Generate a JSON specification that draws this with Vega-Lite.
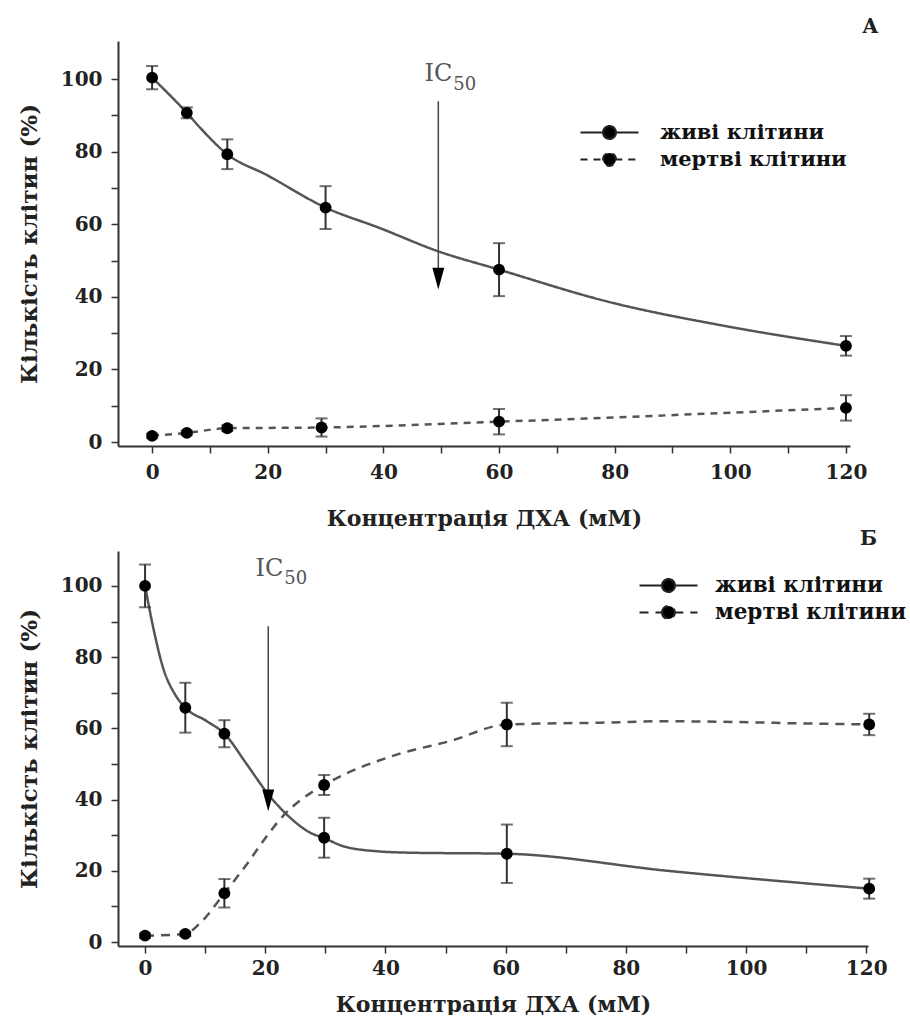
{
  "$schema": "https://vega.github.io/schema/vega-lite/v6.json",
  "background": "white",
  "padding": {"left": 18, "top": 17, "right": 0, "bottom": 0},
  "bounds": "flush",
  "spacing": 105,
  "datasets": {
    "obs": [
      {"panel": "A", "series": "живі клітини", "conc": 0, "value": 100.4, "err": 3.2},
      {"panel": "A", "series": "живі клітини", "conc": 6, "value": 90.7, "err": 1.5},
      {"panel": "A", "series": "живі клітини", "conc": 13, "value": 79.3, "err": 4.1},
      {"panel": "A", "series": "живі клітини", "conc": 30, "value": 64.6, "err": 5.9},
      {"panel": "A", "series": "живі клітини", "conc": 60, "value": 47.5, "err": 7.3},
      {"panel": "A", "series": "живі клітини", "conc": 120, "value": 26.5, "err": 2.7},
      {"panel": "A", "series": "мертві клітини", "conc": 0, "value": 1.7, "err": 0.6},
      {"panel": "A", "series": "мертві клітини", "conc": 6, "value": 2.5, "err": 0.6},
      {"panel": "A", "series": "мертві клітини", "conc": 13, "value": 3.8, "err": 0.8},
      {"panel": "A", "series": "мертві клітини", "conc": 29.3, "value": 4.0, "err": 2.5},
      {"panel": "A", "series": "мертві клітини", "conc": 60, "value": 5.6, "err": 3.5},
      {"panel": "A", "series": "мертві клітини", "conc": 120, "value": 9.4, "err": 3.5},
      {"panel": "Б", "series": "живі клітини", "conc": 0, "value": 100, "err": 6},
      {"panel": "Б", "series": "живі клітини", "conc": 6.7, "value": 65.8, "err": 7},
      {"panel": "Б", "series": "живі клітини", "conc": 13.2, "value": 58.5, "err": 3.8},
      {"panel": "Б", "series": "живі клітини", "conc": 29.8, "value": 29.3, "err": 5.6},
      {"panel": "Б", "series": "живі клітини", "conc": 60.2, "value": 24.8, "err": 8.2},
      {"panel": "Б", "series": "живі клітини", "conc": 120.5, "value": 15, "err": 2.8},
      {"panel": "Б", "series": "мертві клітини", "conc": 0, "value": 1.8, "err": 0.6},
      {"panel": "Б", "series": "мертві клітини", "conc": 6.7, "value": 2.3, "err": 0.6},
      {"panel": "Б", "series": "мертві клітини", "conc": 13.2, "value": 13.7, "err": 4},
      {"panel": "Б", "series": "мертві клітини", "conc": 29.8, "value": 44.1, "err": 2.8},
      {"panel": "Б", "series": "мертві клітини", "conc": 60.2, "value": 61.1, "err": 6.1},
      {"panel": "Б", "series": "мертві клітини", "conc": 120.5, "value": 61.1, "err": 3}
    ],
    "fit": [
      {"panel": "A", "series": "живі клітини", "conc": 0, "value": 100.4},
      {"panel": "A", "series": "живі клітини", "conc": 6, "value": 90.7},
      {"panel": "A", "series": "живі клітини", "conc": 8.3, "value": 86.6},
      {"panel": "A", "series": "живі клітини", "conc": 13, "value": 79.3},
      {"panel": "A", "series": "живі клітини", "conc": 19.8, "value": 73.6},
      {"panel": "A", "series": "живі клітини", "conc": 30, "value": 64.6},
      {"panel": "A", "series": "живі клітини", "conc": 39.3, "value": 59},
      {"panel": "A", "series": "живі клітини", "conc": 49.4, "value": 52.6},
      {"panel": "A", "series": "живі клітини", "conc": 60, "value": 47.5},
      {"panel": "A", "series": "живі клітини", "conc": 79, "value": 38.6},
      {"panel": "A", "series": "живі клітини", "conc": 99, "value": 32},
      {"panel": "A", "series": "живі клітини", "conc": 120, "value": 26.5},
      {"panel": "A", "series": "мертві клітини", "conc": 0, "value": 1.7},
      {"panel": "A", "series": "мертві клітини", "conc": 6, "value": 2.5},
      {"panel": "A", "series": "мертві клітини", "conc": 13, "value": 3.8},
      {"panel": "A", "series": "мертві клітини", "conc": 29.3, "value": 4.0},
      {"panel": "A", "series": "мертві клітини", "conc": 60, "value": 5.6},
      {"panel": "A", "series": "мертві клітини", "conc": 120, "value": 9.4},
      {"panel": "Б", "series": "живі клітини", "conc": 0, "value": 100},
      {"panel": "Б", "series": "живі клітини", "conc": 1.4, "value": 88},
      {"panel": "Б", "series": "живі клітини", "conc": 3, "value": 77},
      {"panel": "Б", "series": "живі клітини", "conc": 5, "value": 69.5},
      {"panel": "Б", "series": "живі клітини", "conc": 6.7, "value": 65.8},
      {"panel": "Б", "series": "живі клітини", "conc": 10.3, "value": 62},
      {"panel": "Б", "series": "живі клітини", "conc": 13.2, "value": 58.5},
      {"panel": "Б", "series": "живі клітини", "conc": 16.9, "value": 50},
      {"panel": "Б", "series": "живі клітини", "conc": 20.5, "value": 41.5},
      {"panel": "Б", "series": "живі клітини", "conc": 24.1, "value": 35},
      {"panel": "Б", "series": "живі клітини", "conc": 27.5, "value": 30.7},
      {"panel": "Б", "series": "живі клітини", "conc": 29.8, "value": 29.2},
      {"panel": "Б", "series": "живі клітини", "conc": 33, "value": 26.9},
      {"panel": "Б", "series": "живі клітини", "conc": 38.6, "value": 25.5},
      {"panel": "Б", "series": "живі клітини", "conc": 44, "value": 25.1},
      {"panel": "Б", "series": "живі клітини", "conc": 60.2, "value": 24.8},
      {"panel": "Б", "series": "живі клітини", "conc": 87, "value": 20},
      {"panel": "Б", "series": "живі клітини", "conc": 120.5, "value": 15},
      {"panel": "Б", "series": "мертві клітини", "conc": 0, "value": 1.8},
      {"panel": "Б", "series": "мертві клітини", "conc": 6.7, "value": 2.3},
      {"panel": "Б", "series": "мертві клітини", "conc": 9.2, "value": 5.4},
      {"panel": "Б", "series": "мертві клітини", "conc": 13.2, "value": 13.7},
      {"panel": "Б", "series": "мертві клітини", "conc": 17, "value": 22},
      {"panel": "Б", "series": "мертві клітини", "conc": 20.5, "value": 30.3},
      {"panel": "Б", "series": "мертві клітини", "conc": 23.3, "value": 36},
      {"panel": "Б", "series": "мертві клітини", "conc": 26, "value": 40},
      {"panel": "Б", "series": "мертві клітини", "conc": 29.8, "value": 44.1},
      {"panel": "Б", "series": "мертві клітини", "conc": 42.4, "value": 52.9},
      {"panel": "Б", "series": "мертві клітини", "conc": 50.7, "value": 56.4},
      {"panel": "Б", "series": "мертві клітини", "conc": 60.2, "value": 61.1},
      {"panel": "Б", "series": "мертві клітини", "conc": 75.7, "value": 61.6},
      {"panel": "Б", "series": "мертві клітини", "conc": 86.8, "value": 62},
      {"panel": "Б", "series": "мертві клітини", "conc": 98, "value": 61.8},
      {"panel": "Б", "series": "мертві клітини", "conc": 109, "value": 61.4},
      {"panel": "Б", "series": "мертві клітини", "conc": 120.5, "value": 61.1}
    ],
    "ic50": [
      {"panel": "A", "conc": 49.5, "value": 93.9, "head": 45.0, "label_y": 99.4},
      {"panel": "Б", "conc": 20.5, "value": 88.7, "head": 39.8, "label_y": 102.7}
    ]
  },
  "config": {
    "view": {"stroke": null},
    "font": "DejaVu Serif",
    "axis": {
      "domainColor": "#333", "domainWidth": 2, "tickColor": "#333", "tickWidth": 1.5, "tickSize": 7,
      "labelFont": "DejaVu Serif", "labelFontSize": 20, "labelFontWeight": "bold", "labelColor": "#222",
      "titleFont": "DejaVu Serif", "titleFontSize": 22, "titleFontWeight": "bold", "titleColor": "#222",
      "grid": false, "labelPadding": 9
    },
    "axisY": {"titleFontSize": 23}
  },
  "resolve": {
    "scale": {"x": "independent", "y": "independent", "strokeDash": "independent"},
    "legend": {"strokeDash": "independent"}
  },
  "vconcat": [
    {
      "width": 732,
      "height": 405,
      "title": {"text": "A", "anchor": "end", "frame": "group", "font": "DejaVu Serif", "fontSize": 20, "fontWeight": "bold", "color": "#222", "dx": 28, "offset": 4},
      "encoding": {
        "x": {"field": "conc", "type": "quantitative", "scale": {"domain": [-5.9, 120.7], "nice": false, "zero": false},
          "axis": {"values": [0, 10, 20, 30, 40, 50, 60, 70, 80, 90, 100, 110, 120], "labelExpr": "datum.value % 20 === 0 ? datum.label : ''", "title": "Концентрація ДХА (мМ)", "titlePadding": 26}},
        "y": {"field": "value", "type": "quantitative", "scale": {"domain": [-1.1, 110.5], "nice": false, "zero": false},
          "axis": {"values": [0, 10, 20, 30, 40, 50, 60, 70, 80, 90, 100], "labelExpr": "datum.value % 20 === 0 ? datum.label : ''", "title": "Кількість клітин (%)", "titlePadding": 19}}
      },
      "layer": [
        {
          "data": {"name": "fit"},
          "transform": [{"filter": "datum.panel === 'A'"}],
          "mark": {"type": "line", "interpolate": "monotone", "color": "#555", "strokeWidth": 2.5},
          "encoding": {
            "strokeDash": {"field": "series", "type": "nominal",
              "scale": {"domain": ["живі клітини", "мертві клітини"], "range": [[1, 0], [7, 6]]},
              "legend": {"orient": "none", "legendX": 461, "legendY": 78, "title": null, "padding": 0,
                "symbolType": "M-1,0H-0.2M0.2,0H1M-0.22,0A0.22,0.22,0,1,1,0.22,0A0.22,0.22,0,1,1,-0.22,0Z",
                "symbolSize": 3364, "symbolStrokeWidth": 2.2, "symbolStrokeColor": "#222", "symbolFillColor": "#000", "symbolOpacity": 1,
                "clipHeight": 27, "rowPadding": 0, "labelOffset": 20, "labelLimit": 400,
                "labelFont": "DejaVu Serif", "labelFontSize": 21, "labelFontWeight": "bold", "labelColor": "#111",
                "encode": {"symbols": {"update": {"fill": {"value": "#000"}, "stroke": {"value": "#222"}, "opacity": {"value": 1}, "fillOpacity": {"value": 1}}}}}
            }
          }
        },
        {
          "data": {"name": "obs"},
          "transform": [{"filter": "datum.panel === 'A'"}],
          "mark": {"type": "errorbar", "ticks": {"size": 12, "thickness": 2, "color": "#333"}, "rule": {"strokeWidth": 2, "color": "#333"}},
          "encoding": {
            "y": {"field": "value", "type": "quantitative", "title": "Кількість клітин (%)"},
            "yError": {"field": "err"}
          }
        },
        {
          "data": {"name": "obs"},
          "transform": [{"filter": "datum.panel === 'A'"}],
          "mark": {"type": "circle", "size": 140, "color": "black", "opacity": 1}
        },
        {
          "data": {"name": "ic50"},
          "transform": [{"filter": "datum.panel === 'A'"}],
          "mark": {"type": "rule", "color": "#444", "strokeWidth": 1.5},
          "encoding": {"y2": {"field": "head"}}
        },
        {
          "data": {"name": "ic50"},
          "transform": [{"filter": "datum.panel === 'A'"}],
          "mark": {"type": "point", "shape": "M-0.55,-1L0.55,-1L0,1Z", "size": 470, "filled": true, "color": "black", "opacity": 1},
          "encoding": {"y": {"field": "head", "type": "quantitative", "title": "Кількість клітин (%)"}}
        },
        {
          "data": {"name": "ic50"},
          "transform": [{"filter": "datum.panel === 'A'"}],
          "mark": {"type": "text", "text": "IC", "align": "right", "baseline": "alphabetic", "dx": 14, "font": "DejaVu Serif", "fontSize": 24, "color": "#555"},
          "encoding": {"y": {"field": "label_y", "type": "quantitative", "title": "Кількість клітин (%)"}}
        },
        {
          "data": {"name": "ic50"},
          "transform": [{"filter": "datum.panel === 'A'"}],
          "mark": {"type": "text", "text": "50", "align": "left", "baseline": "alphabetic", "dx": 15, "dy": 9, "font": "DejaVu Serif", "fontSize": 18, "color": "#555"},
          "encoding": {"y": {"field": "label_y", "type": "quantitative", "title": "Кількість клітин (%)"}}
        }
      ]
    },
    {
      "width": 750,
      "height": 395,
      "title": {"text": "Б", "anchor": "end", "frame": "group", "font": "DejaVu Serif", "fontSize": 20, "fontWeight": "bold", "color": "#222", "dx": 9, "offset": 2},
      "encoding": {
        "x": {"field": "conc", "type": "quantitative", "scale": {"domain": [-4.5, 120.3], "nice": false, "zero": false},
          "axis": {"values": [0, 10, 20, 30, 40, 50, 60, 70, 80, 90, 100, 110, 120], "labelExpr": "datum.value % 20 === 0 ? datum.label : ''", "title": "Концентрація ДХА (мМ)", "titlePadding": 16, "labelPadding": 5}},
        "y": {"field": "value", "type": "quantitative", "scale": {"domain": [-1.1, 109.8], "nice": false, "zero": false},
          "axis": {"values": [0, 10, 20, 30, 40, 50, 60, 70, 80, 90, 100], "labelExpr": "datum.value % 20 === 0 ? datum.label : ''", "title": "Кількість клітин (%)", "titlePadding": 19}}
      },
      "layer": [
        {
          "data": {"name": "fit"},
          "transform": [{"filter": "datum.panel === 'Б'"}],
          "mark": {"type": "line", "interpolate": "monotone", "color": "#555", "strokeWidth": 2.5},
          "encoding": {
            "strokeDash": {"field": "series", "type": "nominal",
              "scale": {"domain": ["живі клітини", "мертві клітини"], "range": [[1, 0], [9, 7]]},
              "legend": {"orient": "none", "legendX": 520, "legendY": 21, "title": null, "padding": 0,
                "symbolType": "M-1,0H-0.2M0.2,0H1M-0.22,0A0.22,0.22,0,1,1,0.22,0A0.22,0.22,0,1,1,-0.22,0Z",
                "symbolSize": 3364, "symbolStrokeWidth": 2.2, "symbolStrokeColor": "#222", "symbolFillColor": "#000", "symbolOpacity": 1,
                "clipHeight": 27, "rowPadding": 0, "labelOffset": 16, "labelLimit": 400,
                "labelFont": "DejaVu Serif", "labelFontSize": 21.5, "labelFontWeight": "bold", "labelColor": "#111",
                "encode": {"symbols": {"update": {"fill": {"value": "#000"}, "stroke": {"value": "#222"}, "opacity": {"value": 1}, "fillOpacity": {"value": 1}}}}}
            }
          }
        },
        {
          "data": {"name": "obs"},
          "transform": [{"filter": "datum.panel === 'Б'"}],
          "mark": {"type": "errorbar", "ticks": {"size": 12, "thickness": 2, "color": "#333"}, "rule": {"strokeWidth": 2, "color": "#333"}},
          "encoding": {
            "y": {"field": "value", "type": "quantitative", "title": "Кількість клітин (%)"},
            "yError": {"field": "err"}
          }
        },
        {
          "data": {"name": "obs"},
          "transform": [{"filter": "datum.panel === 'Б'"}],
          "mark": {"type": "circle", "size": 140, "color": "black", "opacity": 1}
        },
        {
          "data": {"name": "ic50"},
          "transform": [{"filter": "datum.panel === 'Б'"}],
          "mark": {"type": "rule", "color": "#444", "strokeWidth": 1.5},
          "encoding": {"y2": {"field": "head"}}
        },
        {
          "data": {"name": "ic50"},
          "transform": [{"filter": "datum.panel === 'Б'"}],
          "mark": {"type": "point", "shape": "M-0.55,-1L0.55,-1L0,1Z", "size": 470, "filled": true, "color": "black", "opacity": 1},
          "encoding": {"y": {"field": "head", "type": "quantitative", "title": "Кількість клітин (%)"}}
        },
        {
          "data": {"name": "ic50"},
          "transform": [{"filter": "datum.panel === 'Б'"}],
          "mark": {"type": "text", "text": "IC", "align": "right", "baseline": "alphabetic", "dx": 15, "font": "DejaVu Serif", "fontSize": 24, "color": "#555"},
          "encoding": {"y": {"field": "label_y", "type": "quantitative", "title": "Кількість клітин (%)"}}
        },
        {
          "data": {"name": "ic50"},
          "transform": [{"filter": "datum.panel === 'Б'"}],
          "mark": {"type": "text", "text": "50", "align": "left", "baseline": "alphabetic", "dx": 16, "dy": 8, "font": "DejaVu Serif", "fontSize": 18, "color": "#555"},
          "encoding": {"y": {"field": "label_y", "type": "quantitative", "title": "Кількість клітин (%)"}}
        }
      ]
    }
  ]
}
